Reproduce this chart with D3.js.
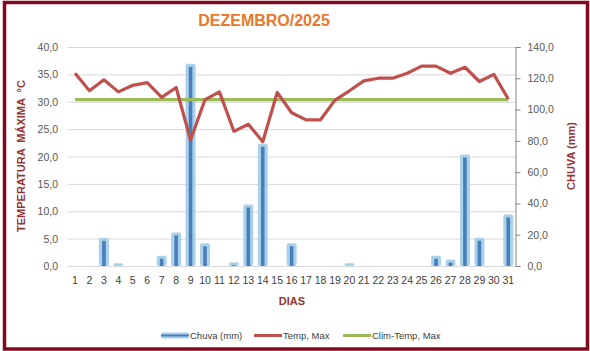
<!DOCTYPE html>
<html>
<head>
<meta charset="utf-8">
<script src="https://cdn.jsdelivr.net/npm/d3@7"></script>
<style>
  body { margin: 0; background: #fff; }
  svg { display: block; font-family: "Liberation Sans", Arial, sans-serif; }
</style>
</head>
<body>
<svg id="chart"></svg>
<script>
const WIDTH = 590;
const HEIGHT = 351;

const days = d3.range(1, 32).map(String);
const chuva = [0, 0, 17, 0.8, 0, 0, 5.6, 20.5, 128.3, 13.6, 0, 1.5, 38.4, 77.2, 0, 13.6,
  0, 0, 0, 0.8, 0, 0, 0, 0, 0, 5.6, 3.2, 70.3, 17.1, 0, 32];
const tempMax = [35.2, 32.0, 34.0, 31.8, 33.0, 33.5, 30.8, 32.6, 23.0, 30.4, 31.8, 24.6, 25.9, 22.7, 31.7, 28.0,
  26.7, 26.7, 30.3, 32.0, 33.8, 34.3, 34.3, 35.2, 36.5, 36.5, 35.2, 36.3, 33.7, 35.0, 30.5];
const climTemp = days.map(() => 30.4);
const leftTicks = [0, 5, 10, 15, 20, 25, 30, 35, 40];
const rightTicks = [0, 20, 40, 60, 80, 100, 120, 140];

const fmt = v => d3.format(".1f")(v).replace(".", ",");

const svg = d3.select("#chart").attr("width", WIDTH).attr("height", HEIGHT);

// moldura
svg.append("rect").attr("x", 4.5).attr("y", 2.5)
  .attr("width", WIDTH - 7).attr("height", HEIGHT - 4.5)
  .attr("fill", "#fff").attr("stroke", "#7f0a1e").attr("stroke-width", 3.5);

const x = d3.scaleBand().domain(days).range([67.8, 515.5]);
const yL = d3.scaleLinear().domain([0, 40]).range([266, 47]);
const yR = d3.scaleLinear().domain([0, 140]).range([266, 47]);
const cx = d => x(d) + x.bandwidth() / 2;

// grade
svg.append("g").selectAll("line").data(leftTicks).enter().append("line")
  .attr("x1", 67.8).attr("x2", 515.5)
  .attr("y1", d => yL(d) + 0.5).attr("y2", d => yL(d) + 0.5)
  .attr("stroke", "#d9d9d9").attr("stroke-width", 1);

// eixo esquerdo
svg.append("g").selectAll("text").data(leftTicks).enter().append("text")
  .attr("x", 58).attr("y", d => yL(d) + 4)
  .attr("text-anchor", "end").attr("font-size", 10.5).attr("fill", "#595959")
  .text(fmt);

// eixo direito
const axR = svg.append("g").attr("transform", "translate(515.5,0)")
  .call(d3.axisRight(yR).tickValues(rightTicks).tickSize(5).tickPadding(7).tickFormat(fmt));
axR.select(".domain").attr("stroke", "#868686");
axR.selectAll(".tick line").attr("stroke", "#868686");
axR.selectAll("text").attr("font-size", 10.5).attr("fill", "#595959")
  .attr("font-family", "Liberation Sans, Arial, sans-serif");

// eixo x
svg.append("g").selectAll("text").data(days).enter().append("text")
  .attr("x", cx).attr("y", 284)
  .attr("text-anchor", "middle").attr("font-size", 10.5).attr("fill", "#404040")
  .text(d => d);

// chuva (barras)
const bars = svg.append("g");
days.forEach((d, i) => {
  if (!chuva[i]) return;
  const h = yR(0) - yR(chuva[i]);
  bars.append("rect")
    .attr("x", cx(d) - 5).attr("y", yR(chuva[i]) - 1.5)
    .attr("width", 10).attr("height", h + 1.5)
    .attr("rx", 2)
    .attr("fill", "#a9d2ea");
  bars.append("rect")
    .attr("x", cx(d) - 1.8).attr("y", yR(chuva[i]) + 1.5)
    .attr("width", 3.6).attr("height", Math.max(0, h - 1.5))
    .attr("fill", "#4a7ebb");
});

// linhas
const line = d3.line().x((d, i) => cx(days[i])).y(d => yL(d));
svg.append("path").datum(climTemp).attr("d", line)
  .attr("fill", "none").attr("stroke", "#9bbb59").attr("stroke-width", 3.2);
svg.append("path").datum(tempMax).attr("d", line)
  .attr("fill", "none").attr("stroke", "#c0504d").attr("stroke-width", 3.2)
  .attr("stroke-linejoin", "round");

// títulos
svg.append("text").attr("x", 264).attr("y", 26).attr("text-anchor", "middle")
  .attr("font-size", 16).attr("font-weight", "bold").attr("fill", "#e8782a")
  .text("DEZEMBRO/2025");
svg.append("text").attr("x", 292).attr("y", 305).attr("text-anchor", "middle")
  .attr("font-size", 11).attr("font-weight", "bold").attr("fill", "#943634")
  .text("DIAS");
svg.append("text").attr("transform", "translate(25,156) rotate(-90)")
  .attr("text-anchor", "middle").attr("font-size", 11).attr("font-weight", "bold")
  .attr("fill", "#943634").attr("xml:space", "preserve")
  .text("TEMPERATURA  MÁXIMA  °C");
svg.append("text").attr("transform", "translate(575,156) rotate(-90)")
  .attr("text-anchor", "middle").attr("font-size", 11).attr("font-weight", "bold")
  .attr("fill", "#943634")
  .text("CHUVA (mm)");

// legenda
const legend = [
  { name: "Chuva (mm)", x: 161, w: 28, color: "#4a7ebb", outline: "#a9d2ea" },
  { name: "Temp, Max", x: 254, w: 28, color: "#c0504d" },
  { name: "Clim-Temp, Max", x: 343, w: 28, color: "#9bbb59" }
];
const lg = svg.append("g").selectAll("g").data(legend).enter().append("g");
lg.filter(d => d.outline).append("rect")
  .attr("x", d => d.x).attr("y", 332.5).attr("width", d => d.w).attr("height", 6)
  .attr("rx", 2).attr("fill", d => d.outline);
lg.append("line").attr("x1", d => d.x).attr("x2", d => d.x + d.w)
  .attr("y1", 335.5).attr("y2", 335.5)
  .attr("stroke", d => d.color).attr("stroke-width", d => d.outline ? 2 : 3);
lg.append("text").attr("x", d => d.x + d.w + 1).attr("y", 339)
  .attr("font-size", 9.5).attr("fill", "#404040").text(d => d.name);
</script>
</body>
</html>
